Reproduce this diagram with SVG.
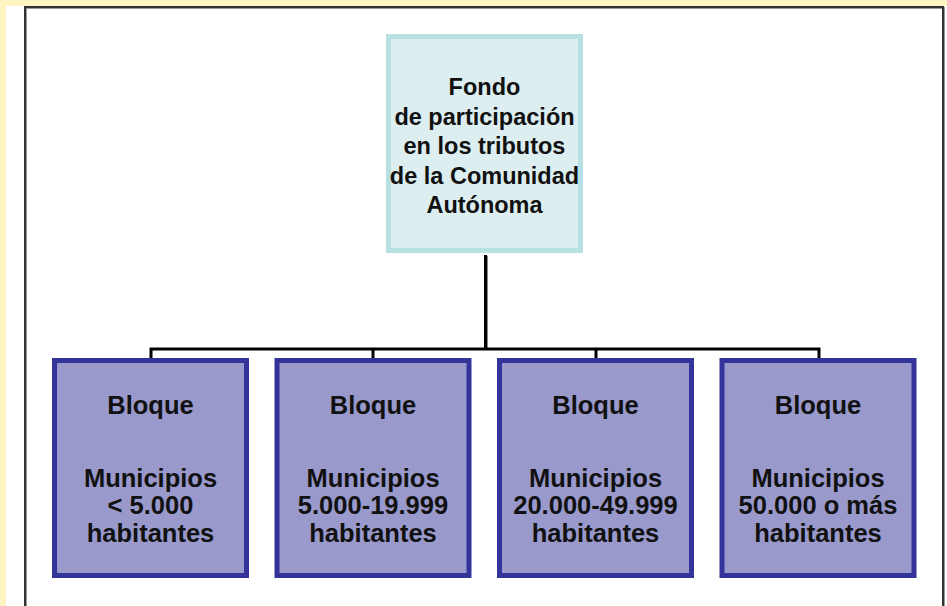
<svg xmlns="http://www.w3.org/2000/svg" width="947" height="606" viewBox="0 0 947 606">
<style>
.frame{fill:#ffffff;stroke:#3a3a3a;stroke-width:2}
.top{fill:#ddeef0;stroke:#b8e0e2;stroke-width:5}
.blk{fill:#9999cc;stroke:#333399;stroke-width:5}
.t{font-family:"Liberation Sans",Arial,sans-serif;font-weight:bold;fill:#111;text-anchor:middle}
.t1{font-size:23.5px}
.t2{font-size:25.5px}
.conn{fill:none;stroke:#000;stroke-width:3}
.shadow{fill:none;stroke:#888;stroke-width:2}
</style>
<rect x="0" y="0" width="947" height="606" fill="#fff4c2"/>
<rect x="6" y="6" width="941" height="610" fill="#ffffff"/>
<path d="M26 616 V8 H944 V616" fill="none" stroke="#999" stroke-width="2"/>
<path d="M25 616 V7 H943 V616" fill="none" stroke="#333" stroke-width="2"/>
<g id="connectors">
<line class="shadow" x1="487" y1="256" x2="487" y2="348"/>
<path class="conn" d="M485.5 255 V349"/>
<path class="conn" d="M151 359 V349 H819 V359"/>
<path class="conn" d="M373 349 V359 M596 349 V359"/>
</g>
<g id="fondo">
<rect class="top" x="388.5" y="36.5" width="192" height="214"/>
<text class="t t1" x="484.5" y="95">Fondo</text>
<text class="t t1" x="484.5" y="124.5">de participación</text>
<text class="t t1" x="484.5" y="154">en los tributos</text>
<text class="t t1" x="484.5" y="183.5">de la Comunidad</text>
<text class="t t1" x="484.5" y="213">Autónoma</text>
</g>
<g id="bloque1">
<rect class="blk" x="54.5" y="360.5" width="192" height="215"/>
<text class="t t2" x="150.5" y="414">Bloque</text>
<text class="t t2" x="150.5" y="487">Municipios</text>
<text class="t t2" x="150.5" y="514">&lt; 5.000</text>
<text class="t t2" x="150.5" y="541.5">habitantes</text>
</g>
<g id="bloque2">
<rect class="blk" x="277" y="360.5" width="192" height="215"/>
<text class="t t2" x="373" y="414">Bloque</text>
<text class="t t2" x="373" y="487">Municipios</text>
<text class="t t2" x="373" y="514">5.000-19.999</text>
<text class="t t2" x="373" y="541.5">habitantes</text>
</g>
<g id="bloque3">
<rect class="blk" x="499.5" y="360.5" width="192" height="215"/>
<text class="t t2" x="595.5" y="414">Bloque</text>
<text class="t t2" x="595.5" y="487">Municipios</text>
<text class="t t2" x="595.5" y="514">20.000-49.999</text>
<text class="t t2" x="595.5" y="541.5">habitantes</text>
</g>
<g id="bloque4">
<rect class="blk" x="722" y="360.5" width="192" height="215"/>
<text class="t t2" x="818" y="414">Bloque</text>
<text class="t t2" x="818" y="487">Municipios</text>
<text class="t t2" x="818" y="514">50.000 o más</text>
<text class="t t2" x="818" y="541.5">habitantes</text>
</g>
</svg>
